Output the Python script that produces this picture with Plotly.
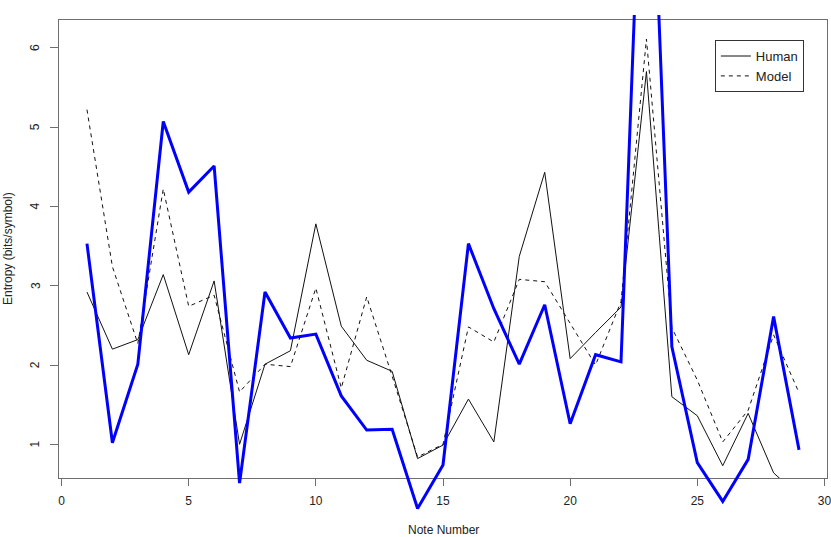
import plotly.graph_objs as go

# note positions
notes = list(range(1, 30))

# entropy per note (bits/symbol)
human = [2.92, 2.20, 2.32, 3.14, 2.13, 3.06, 1.00, 2.01, 2.18, 3.78,
         2.49, 2.06, 1.92, 0.82, 0.99, 1.57, 1.03, 3.37, 4.43, 2.08,
         2.41, 2.73, 5.70, 1.60, 1.36, 0.73, 1.39, 0.64, 0.35]
model = [5.22, 3.24, 2.27, 4.22, 2.74, 2.88, 1.66, 2.01, 1.98, 2.97,
         1.71, 2.86, 1.86, 0.84, 1.00, 2.48, 2.29, 3.08, 3.05, 2.53,
         2.00, 2.80, 6.11, 2.47, 1.81, 1.03, 1.43, 2.38, 1.65]
third = [3.53, 1.02, 2.01, 5.07, 4.18, 4.51, 0.51, 2.92, 2.34, 2.39,
         1.61, 1.18, 1.19, 0.19, 0.74, 3.53, 2.71, 2.01, 2.76, 1.26,
         2.13, 2.04, 10.4, 2.23, 0.77, 0.28, 0.81, 2.61, 0.93]

x_ticks = [0, 5, 10, 15, 20, 25, 30]
y_ticks = [1, 2, 3, 4, 5, 6]

FONT = "Liberation Sans, Arial, sans-serif"
AXCOL = "#6e6e6e"

x_range = [-0.1, 30.1]
y_range = [0.575, 6.35]
y_dom = [0.113, 0.9904]

# the thick line is not clipped to the box, so it gets its own (invisible)
# axes spanning the whole figure with the same scale
span = (y_range[1] - y_range[0]) / (y_dom[1] - y_dom[0])
y2_range = [y_range[0] - y_dom[0] * span, y_range[0] + (1 - y_dom[0]) * span]

fig = go.Figure()

fig.add_trace(go.Scatter(x=notes, y=human, mode="lines", name="Human",
                         line=dict(color="#111111", width=1)))
fig.add_trace(go.Scatter(x=notes, y=model, mode="lines", name="Model",
                         line=dict(color="#111111", width=1, dash="4px,4px")))
fig.add_trace(go.Scatter(x=notes, y=third, mode="lines", showlegend=False,
                         line=dict(color="#0000ff", width=3),
                         xaxis="x2", yaxis="y2"))

# rotated y tick labels sit further out than plotly puts them
annotations = [
    dict(text=str(v), xref="paper", yref="y", x=-0.031, y=v,
         xanchor="center", yanchor="middle", textangle=-90,
         showarrow=False, font=dict(size=12))
    for v in y_ticks
]
annotations += [
    dict(text="Note Number", xref="paper", yref="paper",
         x=0.5, y=0.013, xanchor="center", yanchor="middle",
         showarrow=False, font=dict(size=12)),
    dict(text="Entropy (bits/symbol)", xref="paper", yref="paper",
         x=-0.0664, y=0.5517, xanchor="center", yanchor="middle",
         textangle=-90, showarrow=False, font=dict(size=12)),
]

fig.update_layout(
    width=831, height=537,
    margin=dict(l=59, r=4, t=15, b=0),
    paper_bgcolor="white",
    plot_bgcolor="rgba(0,0,0,0)",
    font=dict(family=FONT, size=12, color="#222222"),
    xaxis=dict(
        domain=[0, 1], range=x_range, anchor="y",
        showgrid=False, zeroline=False,
        showline=True, linecolor=AXCOL, linewidth=1, mirror=True,
        ticks="outside", ticklen=7, tickcolor=AXCOL,
        tickmode="array", tickvals=x_ticks, ticklabelstandoff=5,
        ticklabeloverflow="allow",
        automargin=False,
    ),
    yaxis=dict(
        domain=y_dom, range=y_range, anchor="x",
        showgrid=False, zeroline=False,
        showline=True, linecolor=AXCOL, linewidth=1, mirror=True,
        ticks="outside", ticklen=8, tickcolor=AXCOL,
        tickmode="array", tickvals=y_ticks, showticklabels=False,
        automargin=False,
    ),
    xaxis2=dict(domain=[0, 1], range=x_range, anchor="y2", visible=False),
    yaxis2=dict(domain=[0, 1], range=y2_range, anchor="x2", visible=False),
    legend=dict(
        x=0.854, y=0.952, xanchor="left", yanchor="top",
        bordercolor="#333333", borderwidth=1, bgcolor="white",
        itemwidth=30, font=dict(size=13),
        tracegroupgap=0,
    ),
    annotations=annotations,
)

# drop the default 8px page margin so the figure fills the window
fig.write_html("out.html", config={"displayModeBar": False},
               post_script="document.body.style.margin = '0';")
